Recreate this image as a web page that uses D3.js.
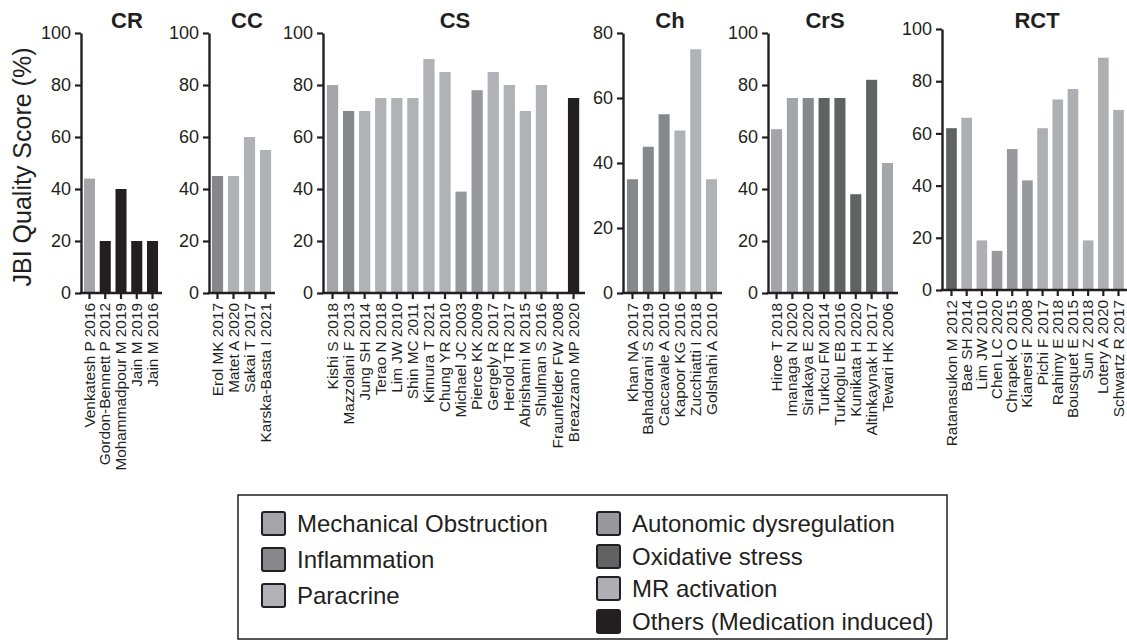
<!DOCTYPE html>
<html>
<head>
<meta charset="utf-8">
<script src="https://cdn.jsdelivr.net/npm/d3@7"></script>
<style>
  html, body { margin: 0; padding: 0; background: #fff; }
  svg { display: block; }
</style>
</head>
<body>
<svg id="chart" width="1127" height="642"></svg>
<script>
// ---------------- DATA ----------------
const categories = ["Mechanical Obstruction", "Inflammation", "Paracrine",
  "Autonomic dysregulation", "Oxidative stress", "MR activation", "Others (Medication induced)"];
const categoryColors = ["#a4a5a8", "#87888b", "#b1b2b5", "#98999c", "#616264", "#aeafb2", "#231f20"];

const panelTitles = ["CR", "CC", "CS", "Ch", "CrS", "RCT"];
const yTicks100 = [0, 20, 40, 60, 80, 100];
const yTicks80 = [0, 20, 40, 60, 80];

const crLabels = ["Venkatesh P 2016", "Gordon-Bennett P 2012", "Mohammadpour M 2019", "Jain M 2019", "Jain M 2016"];
const crValues = [44, 20, 40, 20, 20];
const crGroups = [0, 6, 6, 6, 6];

const ccLabels = ["Erol MK 2017", "Matet A 2020", "Sakai T 2017", "Karska-Basta I 2021"];
const ccValues = [45, 45, 60, 55];
const ccGroups = [1, 2, 2, 2];

const csLabels = ["Kishi S 2018", "Mazzolani F 2013", "Jung SH 2014", "Terao N 2018", "Lim JW 2010",
  "Shin MC 2011", "Kimura T 2021", "Chung YR 2010", "Michael JC 2003", "Pierce KK 2009",
  "Gergely R 2017", "Herold TR 2017", "Abrishami M 2015", "Shulman S 2016", "Fraunfelder FW 2008",
  "Breazzano MP 2020"];
const csValues = [80, 70, 70, 75, 75, 75, 90, 85, 39, 78, 85, 80, 70, 80, 0, 75];
const csGroups = [0, 1, 2, 2, 2, 2, 2, 2, 3, 3, 2, 2, 2, 2, 2, 6];

const chLabels = ["Khan NA 2017", "Bahadorani S 2019", "Caccavale A 2010", "Kapoor KG 2016",
  "Zucchiatti I 2018", "Golshahi A 2010"];
const chValues = [35, 45, 55, 50, 75, 35];
const chGroups = [1, 1, 1, 2, 2, 2];

const crsLabels = ["Hiroe T 2018", "Imanaga N 2020", "Sirakaya E 2020", "Turkcu FM 2014",
  "Turkoglu EB 2016", "Kunikata H 2020", "Altinkaynak H 2017", "Tewari HK 2006"];
const crsValues = [63, 75, 75, 75, 75, 38, 82, 50];
const crsGroups = [0, 0, 1, 4, 4, 4, 4, 0];

const rctLabels = ["Ratanasukon M 2012", "Bae SH 2014", "Lim JW 2010", "Chen LC 2020", "Chrapek O 2015",
  "Kianersi F 2008", "Pichi F 2017", "Rahimy E 2018", "Bousquet E 2015", "Sun Z 2018",
  "Lotery A 2020", "Schwartz R 2017"];
const rctValues = [62, 66, 19, 15, 54, 42, 62, 73, 77, 19, 89, 69];
const rctGroups = [4, 5, 5, 3, 3, 3, 5, 5, 5, 5, 5, 5];

// ---------------- LAYOUT ----------------
const FONT = "'Liberation Sans', Arial, Helvetica, sans-serif";
const INK = "#231f20";

const panels = [
  { title: panelTitles[0], labels: crLabels, values: crValues, groups: crGroups, yMax: 100, ticks: yTicks100,
    band: [81.6, 160.4], axisX: [81, 162], yR: [293, 33], titleX: 127 },
  { title: panelTitles[1], labels: ccLabels, values: ccValues, groups: ccGroups, yMax: 100, ticks: yTicks100,
    band: [209.5, 273.5], axisX: [209, 275], yR: [293, 33], titleX: 247 },
  { title: panelTitles[2], labels: csLabels, values: csValues, groups: csGroups, yMax: 100, ticks: yTicks100,
    band: [324.5, 581.6], axisX: [323, 585], yR: [293, 33], titleX: 455 },
  { title: panelTitles[3], labels: chLabels, values: chValues, groups: chGroups, yMax: 80, ticks: yTicks80,
    band: [624.6, 719.4], axisX: [623, 722], yR: [293, 33], titleX: 670 },
  { title: panelTitles[4], labels: crsLabels, values: crsValues, groups: crsGroups, yMax: 100, ticks: yTicks100,
    band: [768.6, 895.4], axisX: [768, 898], yR: [293, 33], titleX: 825 },
  { title: panelTitles[5], labels: rctLabels, values: rctValues, groups: rctGroups, yMax: 100, ticks: yTicks100,
    band: [943.9, 1126.1], axisX: [942, 1127], yR: [290, 29], titleX: 1037 }
];

const svg = d3.select("#chart");
const LABEL_SCALE = 1.1;

panels.forEach(p => {
  const n = p.values.length;
  const y = d3.scaleLinear().domain([0, p.yMax]).range(p.yR);
  const x = d3.scaleBand().domain(d3.range(n)).range(p.band).paddingInner(0.3).paddingOuter(0.15);
  const g = svg.append("g");

  // bars
  g.selectAll("rect.bar").data(p.values).join("rect")
    .attr("class", "bar")
    .attr("x", (d, i) => x(i))
    .attr("width", x.bandwidth())
    .attr("y", d => y(d))
    .attr("height", d => y(0) - y(d))
    .attr("fill", (d, i) => categoryColors[p.groups[i]]);

  // y axis
  const ya = g.append("g").attr("transform", `translate(${p.axisX[0]},0)`)
    .call(d3.axisLeft(y).tickValues(p.ticks).tickSize(6).tickSizeOuter(0).tickPadding(4));
  ya.select(".domain").attr("stroke", INK).attr("stroke-width", 2.4);
  ya.selectAll(".tick line").attr("stroke", INK).attr("stroke-width", 2.2);
  ya.selectAll(".tick text").attr("fill", INK).style("font-family", FONT).style("font-size", "18px");

  // x axis
  const xa = g.append("g").attr("transform", `translate(0,${y(0)})`)
    .call(d3.axisBottom(x).tickSize(6).tickSizeOuter(0).tickFormat(i => p.labels[i]));
  xa.select(".domain").remove();
  xa.append("line").attr("x1", p.axisX[0] - 1.2).attr("x2", p.axisX[1]).attr("y1", 0).attr("y2", 0)
    .attr("stroke", INK).attr("stroke-width", 2.4);
  xa.selectAll(".tick line").attr("stroke", INK).attr("stroke-width", 2.2);
  xa.selectAll(".tick text")
    .attr("fill", INK)
    .style("font-family", FONT).style("font-size", "14px")
    .attr("text-anchor", "end")
    .attr("transform", `rotate(-90) scale(${LABEL_SCALE},1)`)
    .attr("x", -10 / LABEL_SCALE)
    .attr("y", 0)
    .attr("dy", "0.36em");

  // title
  g.append("text").attr("x", p.titleX).attr("y", 28).attr("text-anchor", "middle")
    .attr("fill", INK).style("font-family", FONT).style("font-size", "22px").style("font-weight", "bold")
    .text(p.title);
});

// y-axis title
svg.append("text")
  .attr("transform", "translate(31,167) rotate(-90)")
  .attr("text-anchor", "middle")
  .attr("fill", INK).style("font-family", FONT).style("font-size", "25px")
  .text("JBI Quality Score (%)");

// legend
const lg = svg.append("g");
lg.append("rect").attr("x", 238).attr("y", 495).attr("width", 709).attr("height", 144)
  .attr("fill", "none").attr("stroke", INK).attr("stroke-width", 1.5);

const legendCol = [0, 0, 0, 1, 1, 1, 1];
const legendRowY = [[523, 559, 595], [523, 556, 588, 621]];
const colX = [262, 597];
const colRow = [0, 0];
categories.forEach((c, i) => {
  const col = legendCol[i];
  const cy = legendRowY[col][colRow[col]++];
  lg.append("rect").attr("x", colX[col]).attr("y", cy - 11).attr("width", 23).attr("height", 23)
    .attr("rx", 2).attr("fill", categoryColors[i]).attr("stroke", INK).attr("stroke-width", 2);
  lg.append("text").attr("x", colX[col] + 35).attr("y", cy + 9)
    .attr("fill", INK).style("font-family", FONT).style("font-size", "24px")
    .text(c);
});
</script>
</body>
</html>
